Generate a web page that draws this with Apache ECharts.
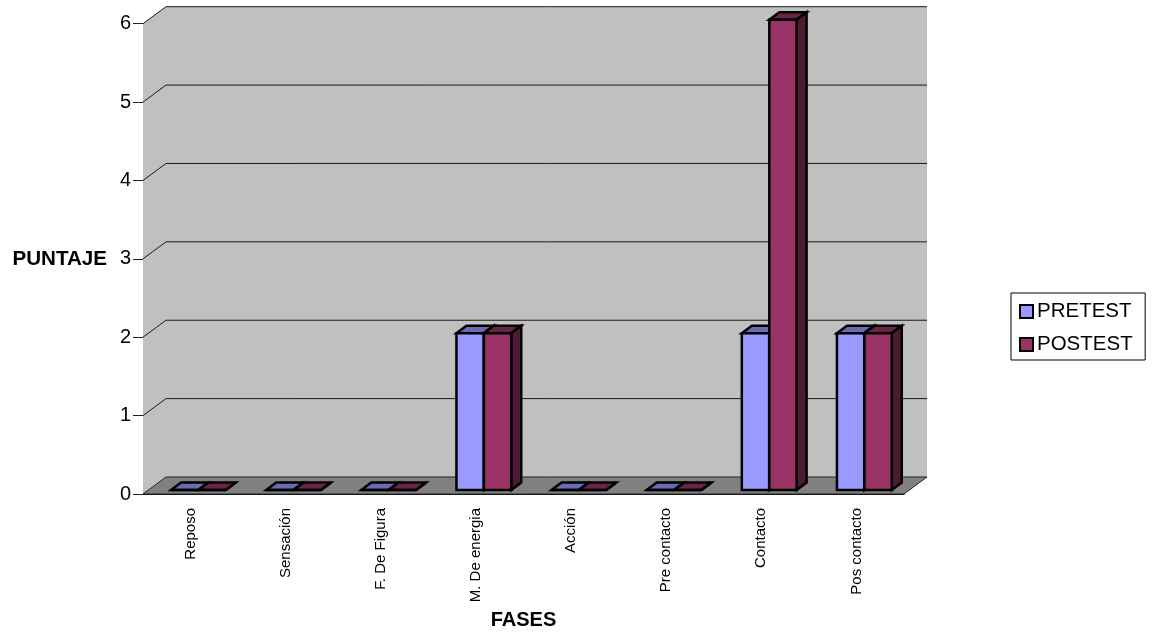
<!DOCTYPE html>
<html>
<head>
<meta charset="utf-8">
<style>html,body{margin:0;padding:0;background:#fff}#chart{width:1152px;height:637px}</style>
<script src="https://cdn.jsdelivr.net/npm/echarts@6/dist/echarts.min.js"></script>
</head>
<body>
<div id="chart"></div>
<script>
var categories = ['Reposo', 'Sensación', 'F. De Figura', 'M. De energia', 'Acción', 'Pre contacto', 'Contacto', 'Pos contacto'];
var pretest = [0, 0, 0, 2, 0, 0, 2, 2];
var postest = [0, 0, 0, 2, 0, 0, 6, 2];
var gridLevels = [1, 2, 3, 4, 5, 6];

// fake 3D: how far the back wall and each bar go back
var wallDx = 23, wallDy = 17;
var barDx = 10, barDy = 7.5, barLift = 4;

var chart = echarts.init(document.getElementById('chart'));

function poly(points, fill, stroke, width) {
  return {
    type: 'polygon',
    shape: { points: points },
    style: { fill: fill, stroke: stroke || null, lineWidth: width || 0, lineJoin: 'miter' }
  };
}

// floor and walls
function renderWalls(params, api) {
  var c = params.coordSys;
  var l = c.x, r = c.x + c.width, t = c.y, b = c.y + c.height;
  return {
    type: 'group',
    children: [
      poly([[l + wallDx, t - wallDy], [r + wallDx, t - wallDy], [r + wallDx, b - wallDy], [l + wallDx, b - wallDy]], '#c0c0c0'),
      poly([[l, t], [l + wallDx, t - wallDy], [l + wallDx, b - wallDy], [l, b]], '#c0c0c0'),
      poly([[l, b], [l + wallDx, b - wallDy], [r + wallDx, b - wallDy], [r, b]], '#808080', '#222', 1)
    ]
  };
}

// grid lines run along the left wall and then the back wall
function renderGrid(params, api) {
  var c = params.coordSys;
  var y = api.coord([0, api.value(1)])[1];
  return {
    type: 'polyline',
    shape: { points: [[c.x, y], [c.x + wallDx, y - wallDy], [c.x + c.width + wallDx, y - wallDy]] },
    style: { fill: null, stroke: '#1a1a1a', lineWidth: 1 }
  };
}

function makeBarRenderer(offset, front, top, side) {
  return function (params, api) {
    var pos = api.coord([api.value(0), api.value(1)]);
    var zero = api.coord([api.value(0), 0]);
    var band = api.size([1, 0])[0];
    var x0 = pos[0] + offset * band, x1 = x0 + 0.287 * band;
    var y0 = zero[1] - barLift, y1 = pos[1] - barLift;
    var black = '#000';
    return {
      type: 'group',
      children: [
        poly([[x0, y1], [x1, y1], [x1 + barDx, y1 - barDy], [x0 + barDx, y1 - barDy]], top, black, 2.5),
        poly([[x1, y0], [x1, y1], [x1 + barDx, y1 - barDy], [x1 + barDx, y0 - barDy]], side, black, 2.5),
        poly([[x0, y0], [x1, y0], [x1, y1], [x0, y1]], front, black, 2.5)
      ]
    };
  };
}

var option = {
  backgroundColor: '#fff',
  animation: false,
  textStyle: { fontFamily: 'Liberation Sans', color: '#000' },
  grid: { left: 143, right: 248, top: 23.7, bottom: 143 },
  legend: {
    data: ['PRETEST', 'POSTEST'],
    orient: 'vertical',
    left: 1011,
    top: 293,
    padding: [8, 12.5, 5, 8],
    itemGap: 12,
    itemWidth: 13,
    itemHeight: 13,
    icon: 'rect',
    selectedMode: false,
    borderColor: '#000',
    borderWidth: 1,
    backgroundColor: '#fff',
    textStyle: { fontSize: 20.5, color: '#000', fontFamily: 'Liberation Sans', padding: [0, 0, 0, -1] }
  },
  xAxis: {
    type: 'category',
    data: categories,
    name: 'FASES',
    nameLocation: 'middle',
    nameGap: 116,
    nameTextStyle: { fontSize: 20, fontWeight: 'bold', color: '#000', fontFamily: 'Liberation Sans' },
    axisLine: { lineStyle: { color: '#111', width: 1 } },
    axisTick: { length: 11, lineStyle: { color: '#555' } },
    axisLabel: { rotate: 90, interval: 0, fontSize: 15, color: '#000', margin: 14 }
  },
  yAxis: {
    type: 'value',
    min: 0,
    max: 6,
    interval: 1,
    name: 'PUNTAJE',
    nameLocation: 'middle',
    nameRotate: 0,
    nameGap: 36,
    nameTextStyle: { fontSize: 20.6, fontWeight: 'bold', color: '#000', fontFamily: 'Liberation Sans', padding: [2, 0, 0, 0] },
    splitLine: { show: false },
    axisLine: { show: true, lineStyle: { color: '#666', width: 1 } },
    axisTick: { show: true, length: 10, lineStyle: { color: '#222' } },
    axisLabel: { fontSize: 20, color: '#000', margin: 12, padding: [4, 0, 0, 0] }
  },
  series: [
    {
      name: 'walls',
      type: 'custom',
      silent: true,
      z: 1,
      renderItem: renderWalls,
      encode: { x: 0, y: 1 },
      data: [[0, 0]]
    },
    {
      name: 'grid',
      type: 'custom',
      silent: true,
      z: 2,
      renderItem: renderGrid,
      encode: { x: 0, y: 1 },
      data: gridLevels.map(function (v) { return [0, v]; })
    },
    {
      name: 'PRETEST',
      type: 'custom',
      z: 3,
      itemStyle: { color: '#9999ff', borderColor: '#000', borderWidth: 2 },
      renderItem: makeBarRenderer(-0.205, '#9999ff', '#6b6bb3', '#45457a'),
      encode: { x: 0, y: 1 },
      data: pretest.map(function (v, i) { return [i, v]; })
    },
    {
      name: 'POSTEST',
      type: 'custom',
      z: 4,
      itemStyle: { color: '#993366', borderColor: '#000', borderWidth: 2 },
      renderItem: makeBarRenderer(0.084, '#993366', '#6b2447', '#4d1a33'),
      encode: { x: 0, y: 1 },
      data: postest.map(function (v, i) { return [i, v]; })
    }
  ]
};
chart.setOption(option);
</script>
</body>
</html>
